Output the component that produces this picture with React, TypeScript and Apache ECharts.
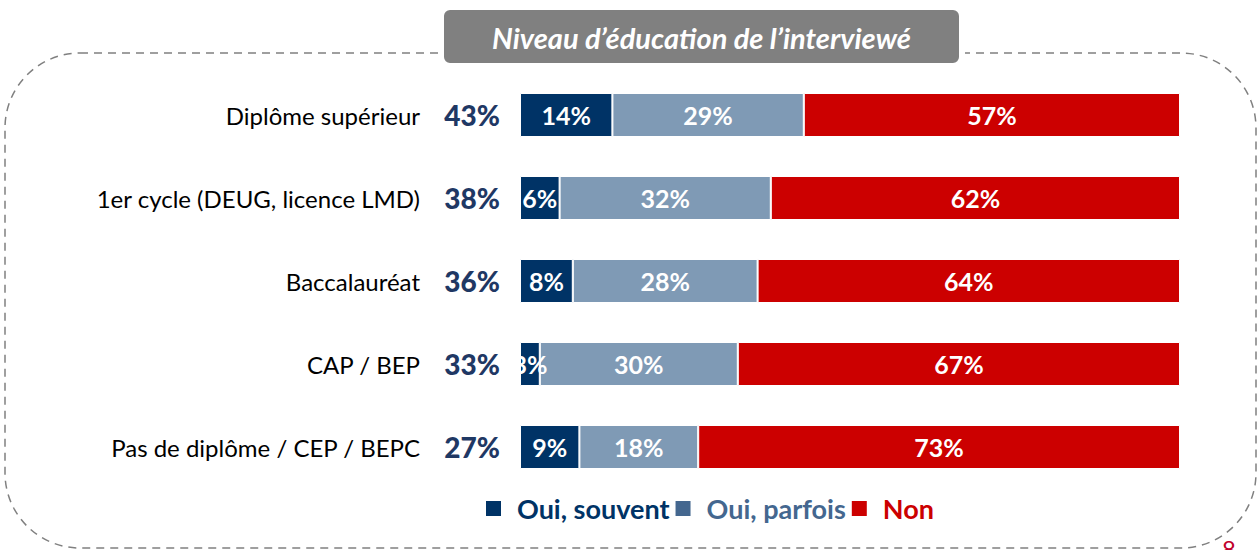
import React, { useEffect, useRef } from "react";
import * as echarts from "echarts";

const categories = [
  "Diplôme supérieur",
  "1er cycle (DEUG, licence LMD)",
  "Baccalauréat",
  "CAP / BEP",
  "Pas de diplôme / CEP / BEPC",
];
const ouiSouvent = [14, 6, 8, 3, 9];
const ouiParfois = [29, 32, 28, 30, 18];
const non = [57, 62, 64, 67, 73];
const totals = ["43%", "38%", "36%", "33%", "27%"];
const seriesNames = ["Oui, souvent", "Oui, parfois", "Non"];
const title = "Niveau d\u2019éducation de l\u2019interviewé";

const FONT = "Lato, 'Open Sans', sans-serif";
const DARK = "#003366";
const LIGHT = "#7F9AB5";
const RED = "#CC0000";

export default function App() {
  const ref = useRef<HTMLDivElement>(null);
  useEffect(() => {
    if (!ref.current) return;
    const chart = echarts.init(ref.current, undefined, { renderer: "svg" });
    const label = {
      show: true,
      position: "inside",
      formatter: "{c}%",
      color: "#fff",
      fontWeight: "bold",
      fontSize: 25,
      fontFamily: FONT,
    };
    const colors = [DARK, LIGHT, RED];
    const datas = [ouiSouvent, ouiParfois, non];
    chart.setOption({
      animation: false,
      textStyle: { fontFamily: FONT },
      grid: { left: 520, right: 80, top: 73.5, bottom: 61.5 },
      xAxis: { type: "value", min: 0, max: 100, show: false },
      yAxis: [
        {
          type: "category",
          inverse: true,
          data: categories,
          axisLine: { show: false },
          axisTick: { show: false },
          splitLine: { show: false },
          axisLabel: { margin: 100, fontSize: 24, color: "#000", fontFamily: FONT },
        },
        {
          type: "category",
          inverse: true,
          position: "left",
          data: totals,
          axisLine: { show: false },
          axisTick: { show: false },
          splitLine: { show: false },
          axisLabel: {
            margin: 20,
            fontSize: 28,
            fontWeight: 900,
            color: "#1F3864",
            fontFamily: FONT,
          },
        },
      ],
      legend: {
        top: 490,
        left: 479,
        itemWidth: 17,
        itemHeight: 17,
        itemGap: 4,
        icon: "rect",
        data: [
          { name: seriesNames[0], itemStyle: { color: DARK }, textStyle: { color: DARK } },
          { name: seriesNames[1], itemStyle: { color: "#44678F" }, textStyle: { color: "#44678F" } },
          { name: seriesNames[2], itemStyle: { color: RED }, textStyle: { color: RED } },
        ],
        textStyle: {
          fontSize: 27,
          fontWeight: "bold",
          fontFamily: FONT,
          padding: [0, 0, 0, 10],
        },
      },
      series: seriesNames.map((name, i) => ({
        name,
        type: "bar",
        stack: "a",
        barWidth: 44,
        data: datas[i],
        itemStyle: { color: colors[i], borderColor: "#fff", borderWidth: 1 },
        label,
      })),
      graphic: [
        {
          type: "rect",
          z: -10,
          shape: { x: 5, y: 53, width: 1251, height: 495, r: 75 },
          style: { fill: "none", stroke: "#808080", lineWidth: 1.5, lineDash: [8, 6] },
        },
        {
          type: "rect",
          shape: { x: 441, y: 7, width: 521, height: 59, r: 9 },
          style: { fill: "#808080", stroke: "#fff", lineWidth: 6 },
        },
        {
          type: "text",
          x: 701.5,
          y: 37,
          style: {
            text: title,
            fill: "#fff",
            fontSize: 29,
            fontWeight: "bold",
            fontStyle: "italic",
            fontFamily: FONT,
            align: "center",
            verticalAlign: "middle",
          },
        },
        {
          type: "text",
          x: 1222,
          y: 536,
          style: { text: "8", fill: "#C0002A", fontSize: 24, fontFamily: FONT },
        },
      ],
    });
    return () => chart.dispose();
  }, []);
  return (
    <div
      ref={ref}
      style={{ position: "fixed", left: 0, top: 0, width: 1260, height: 550, background: "#fff" }}
    />
  );
}
